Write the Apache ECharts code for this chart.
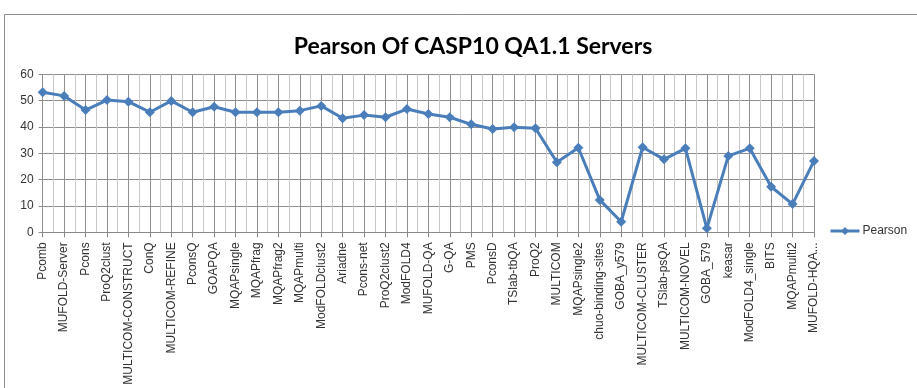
<!DOCTYPE html>
<html>
<head>
<meta charset="utf-8">
<script src="https://cdn.jsdelivr.net/npm/echarts@6/dist/echarts.min.js"></script>
<style>
  html, body { margin: 0; padding: 0; background: #ffffff; }
  #chart { width: 917px; height: 388px; }
</style>
</head>
<body>
<div id="chart"></div>
<script>
// Server names along the category axis
const servers = [
  'Pcomb', 'MUFOLD-Server', 'Pcons', 'ProQ2clust', 'MULTICOM-CONSTRUCT', 'ConQ',
  'MULTICOM-REFINE', 'PconsQ', 'GOAPQA', 'MQAPsingle', 'MQAPfrag', 'MQAPfrag2',
  'MQAPmulti', 'ModFOLDclust2', 'Ariadne', 'Pcons-net', 'ProQ2clust2', 'ModFOLD4',
  'MUFOLD-QA', 'G-QA', 'PMS', 'PconsD', 'TSlab-tbQA', 'ProQ2', 'MULTICOM',
  'MQAPsingle2', 'chuo-binding-sites', 'GOBA_y579', 'MULTICOM-CLUSTER', 'TSlab-psQA',
  'MULTICOM-NOVEL', 'GOBA_579', 'keasar', 'ModFOLD4_single', 'BITS', 'MQAPmulti2',
  'MUFOLD-HQA...'
];

// Pearson correlation (x100) per server
const pearson = [
  53.2, 51.8, 46.4, 50.2, 49.6, 45.6,
  49.9, 45.6, 47.7, 45.6, 45.6, 45.6,
  46.2, 48.0, 43.3, 44.5, 43.7, 46.8,
  44.9, 43.7, 41.0, 39.2, 39.9, 39.5, 26.6,
  32.1, 12.3, 4.0, 32.3, 27.7,
  31.9, 1.5, 29.0, 31.9, 17.3, 10.7,
  27.1
];

// Value axis range
const yMin = 0;
const yMax = 60;
const yStep = 10;

// Half-step positions used only for the lighter in-between vertical grid lines
const halfSteps = [];
for (let i = 0; i < servers.length * 2 - 1; i++) halfSteps.push('');

const chart = echarts.init(document.getElementById('chart'), null, { renderer: 'canvas' });

const labelFont = '"Liberation Sans", Arial, sans-serif';

chart.setOption({
  animation: false,
  backgroundColor: '#ffffff',
  title: {
    text: 'Pearson Of CASP10 QA1.1 Servers',
    left: 468,
    textAlign: 'center',
    top: 30,
    textStyle: {
      fontFamily: 'Lato, "Open Sans", sans-serif',
      fontWeight: 'bold',
      fontSize: 23,
      color: '#000000'
    }
  },
  graphic: [{
    type: 'rect',
    shape: { x: 4.5, y: 14.5, width: 960, height: 400 },
    style: { fill: 'none', stroke: '#8c8c8c', lineWidth: 1 },
    silent: true,
    z: -10
  }],
  legend: {
    data: ['Pearson'],
    left: 824,
    top: 220,
    itemWidth: 29,
    itemHeight: 10,
    itemGap: 4,
    lineStyle: { width: 3 },
    textStyle: { fontFamily: labelFont, fontSize: 12, color: '#333333', padding: [0, 0, 0, -2] }
  },
  grid: {
    left: 42.7,
    right: 103,
    top: 74.3,
    bottom: 155.7,
    containLabel: false
  },
  xAxis: [{
    type: 'category',
    data: servers,
    boundaryGap: false,
    axisLine: { lineStyle: { color: '#888888', width: 1 } },
    axisTick: { show: true, length: 5, alignWithLabel: true, lineStyle: { color: '#888888' } },
    splitLine: { show: true, lineStyle: { color: '#8f8f8f', width: 1 } },
    axisLabel: {
      interval: 0,
      rotate: 90,
      margin: 10,
      fontFamily: labelFont,
      fontSize: 12,
      color: '#333333'
    },
    z: 3
  }, {
    type: 'category',
    data: halfSteps,
    boundaryGap: false,
    position: 'bottom',
    axisLine: { show: false },
    axisTick: { show: false },
    axisLabel: { show: false },
    splitLine: { show: true, lineStyle: { color: '#c8c8c8', width: 1 } },
    z: 1
  }],
  yAxis: {
    type: 'value',
    min: yMin,
    max: yMax,
    interval: yStep,
    axisLine: { show: true, lineStyle: { color: '#888888' } },
    axisTick: { show: true, length: 4, lineStyle: { color: '#888888' } },
    splitLine: { show: true, lineStyle: { color: '#8f8f8f', width: 1 } },
    axisLabel: {
      margin: 9,
      fontFamily: labelFont,
      fontSize: 12,
      color: '#333333'
    }
  },
  series: [{
    name: 'Pearson',
    type: 'line',
    xAxisIndex: 0,
    data: pearson,
    symbol: 'diamond',
    symbolSize: 10,
    lineStyle: { color: '#4a7ebb', width: 3 },
    itemStyle: { color: '#4a7ebb' },
    z: 5
  }]
});
</script>
</body>
</html>
